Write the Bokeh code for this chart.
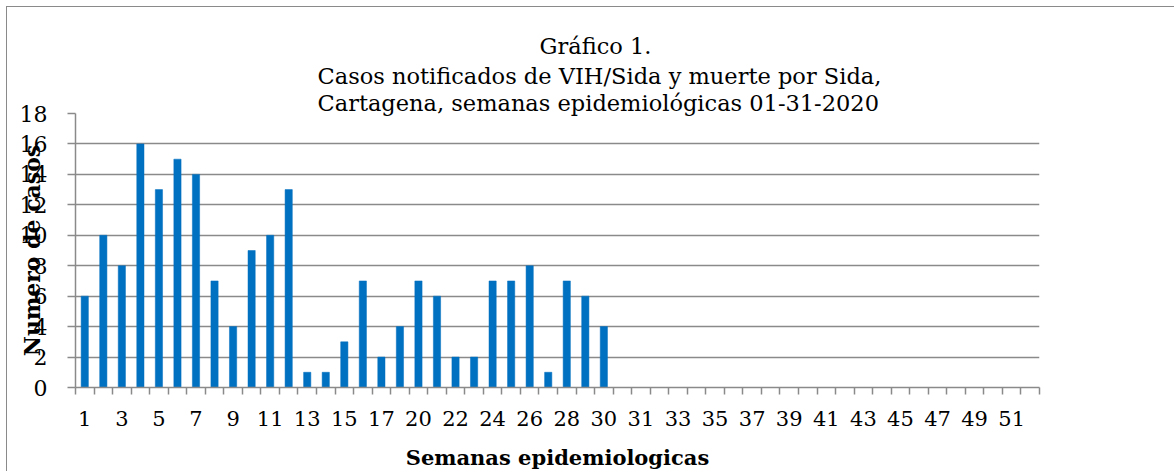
from bokeh.plotting import figure
from bokeh.models import Range1d, FixedTicker, Title, ColumnDataSource
from bokeh.embed import file_html
from bokeh.resources import INLINE

# ---- data -------------------------------------------------------------
casos = [6, 10, 8, 16, 13, 15, 14, 7, 4, 9, 10, 13, 1, 1, 3, 7, 2, 4,
         7, 6, 2, 2, 7, 7, 8, 1, 7, 6, 4]
n_categorias = 52
tick_labels = ["1", "3", "5", "7", "9", "11", "13", "15", "17", "20", "22",
               "24", "26", "28", "30", "31", "33", "35", "37", "39", "41",
               "43", "45", "47", "49", "51"]
y_ticks = [0, 2, 4, 6, 8, 10, 12, 14, 16, 18]
title_lines = ["Gráfico 1.",
               "Casos notificados de VIH/Sida y muerte por Sida,",
               "Cartagena, semanas epidemiológicas 01-31-2020"]
x_title = "Semanas epidemiologicas"
y_title = "Numero de casos"

# ---- figure -----------------------------------------------------------
FONT = "DejaVu Serif"
GRID = "#8a8a8a"

p = figure(width=1168, height=465, output_backend="svg", toolbar_location=None,
           x_range=Range1d(0.5, n_categorias + 0.5), y_range=Range1d(0, 18),
           min_border_left=68, min_border_right=136, min_border_top=106,
           min_border_bottom=85)
p.styles = {"margin-left": "6px", "margin-top": "6px",
            "border-top": "1px solid #8a8a8a", "border-left": "1px solid #8a8a8a"}
p.outline_line_color = None
p.background_fill_color = "white"
p.border_fill_color = "white"

positions = list(range(1, len(casos) + 1))
src = ColumnDataSource(dict(x=positions, top=casos))
p.vbar(x="x", top="top", width=0.39, source=src, fill_color="#0070C0",
       line_color="#0070C0", line_width=0.5)

# x axis
major = [2 * i + 1 for i in range(len(tick_labels))]
minor = [i + 0.5 for i in range(n_categorias + 1)]
xa = p.xaxis[0]
xa.ticker = FixedTicker(ticks=major, minor_ticks=minor)
xa.major_label_overrides = {m: t for m, t in zip(major, tick_labels)}
xa.major_tick_line_color = None
xa.major_tick_out = 7
xa.major_tick_in = 0
xa.minor_tick_line_color = GRID
xa.minor_tick_line_width = 1.5
xa.minor_tick_out = 7
xa.minor_tick_in = 0
xa.axis_line_color = GRID
xa.axis_line_width = 1.5
xa.major_label_text_font = FONT
xa.major_label_text_font_size = "21px"
xa.major_label_text_color = "black"
xa.major_label_standoff = 16
xa.axis_label = x_title
xa.axis_label_text_font = FONT
xa.axis_label_text_font_size = "21px"
xa.axis_label_text_font_style = "bold"
xa.axis_label_text_color = "black"
xa.axis_label_standoff = 16

# y axis
ya = p.yaxis[0]
ya.ticker = FixedTicker(ticks=y_ticks)
ya.axis_line_color = GRID
ya.axis_line_width = 1.5
ya.major_tick_line_color = GRID
ya.major_tick_line_width = 1.5
ya.major_tick_out = 8
ya.major_tick_in = 0
ya.minor_tick_line_color = None
ya.major_label_text_font = FONT
ya.major_label_text_font_size = "22px"
ya.major_label_text_color = "black"
ya.major_label_standoff = 20
ya.axis_label = y_title
ya.axis_label_text_font = FONT
ya.axis_label_text_font_size = "22px"
ya.axis_label_text_font_style = "bold"
ya.axis_label_text_color = "black"
ya.axis_label_standoff = -28

p.xgrid.grid_line_color = None
p.ygrid.ticker = FixedTicker(ticks=y_ticks)
p.ygrid.grid_line_color = GRID
p.ygrid.grid_line_width = 1.5

# three title lines, nearest line added first
offsets = [464, 242, 242]
standoffs = [2, 2, -4]
for txt, off, so in reversed(list(zip(title_lines, offsets, standoffs))):
    p.add_layout(Title(text=txt, align="left", offset=off, standoff=so,
                       text_font=FONT, text_font_size="22.5px",
                       text_font_style="normal", text_color="black"), "above")

open("out.html", "w").write(file_html(p, INLINE))
